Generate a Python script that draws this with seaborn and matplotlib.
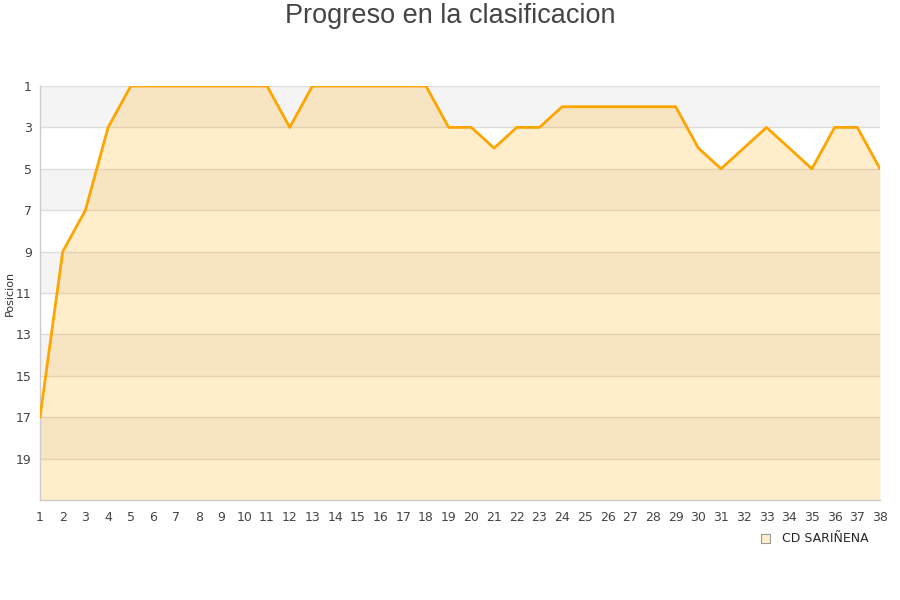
import numpy as np
import pandas as pd
import matplotlib
matplotlib.use("Agg")
import matplotlib.pyplot as plt
import seaborn as sns
from matplotlib.patches import Patch

sns.set_theme(style="white")
plt.rcParams["font.family"] = ["DejaVu Sans"]

jornadas = list(range(1, 39))
posicion = [17, 9, 7, 3, 1, 1, 1, 1, 1, 1, 1, 3, 1, 1, 1, 1, 1, 1, 3, 3,
            4, 3, 3, 2, 2, 2, 2, 2, 2, 4, 5, 4, 3, 4, 5, 3, 3, 5]
equipo = "CD SARIÑENA"
y_ticks = list(range(1, 20, 2))

df = pd.DataFrame({"jornada": jornadas, "posicion": posicion})

fig = plt.figure(figsize=(9, 6), dpi=100)
ax = fig.add_axes([40 / 900, 100 / 600, 840 / 900, 414 / 600])

# alternating horizontal bands
for i, lo in enumerate(range(1, 21, 2)):
    if i % 2 == 0:
        ax.axhspan(lo, lo + 2, color="#f4f4f4", zorder=0, lw=0)
for t in y_ticks:
    ax.axhline(t, color="#dddddd", lw=1, zorder=1)

ax.fill_between(df["jornada"], df["posicion"], 21, color="#ffa500", alpha=0.2,
                lw=0, zorder=2)
sns.lineplot(data=df, x="jornada", y="posicion", ax=ax, color="#ffa500",
             lw=2, zorder=3)

ax.set_xlim(1, 38)
ax.set_ylim(21, 1)
ax.set_xticks(jornadas)
ax.set_yticks(y_ticks)
ax.tick_params(axis="x", labelsize=9, colors="#444444", length=0, pad=8)
ax.tick_params(axis="y", labelsize=9, colors="#444444", length=0, pad=6)
ax.set_xlabel("")
ax.set_ylabel("Posicion", fontsize=8, color="#333333")
ax.yaxis.set_label_coords(-25 / 840, 0.5)

for side in ["top", "right"]:
    ax.spines[side].set_visible(False)
for side in ["left", "bottom"]:
    ax.spines[side].set_color("#cccccc")
    ax.spines[side].set_linewidth(1)

fig.suptitle("Progreso en la clasificacion", fontsize=19.5, color="#444444", y=0.995,
             family=["Liberation Sans", "DejaVu Sans"])

handle = Patch(facecolor="#ffedcc", edgecolor="#999999", lw=0.8)
fig.legend([handle], [equipo], loc="center", bbox_to_anchor=(815 / 900, 1 - 539 / 600),
           frameon=False, fontsize=9, handlelength=0.7, handleheight=0.7,
           handletextpad=1.0)

plt.savefig("out.png", dpi=100)
